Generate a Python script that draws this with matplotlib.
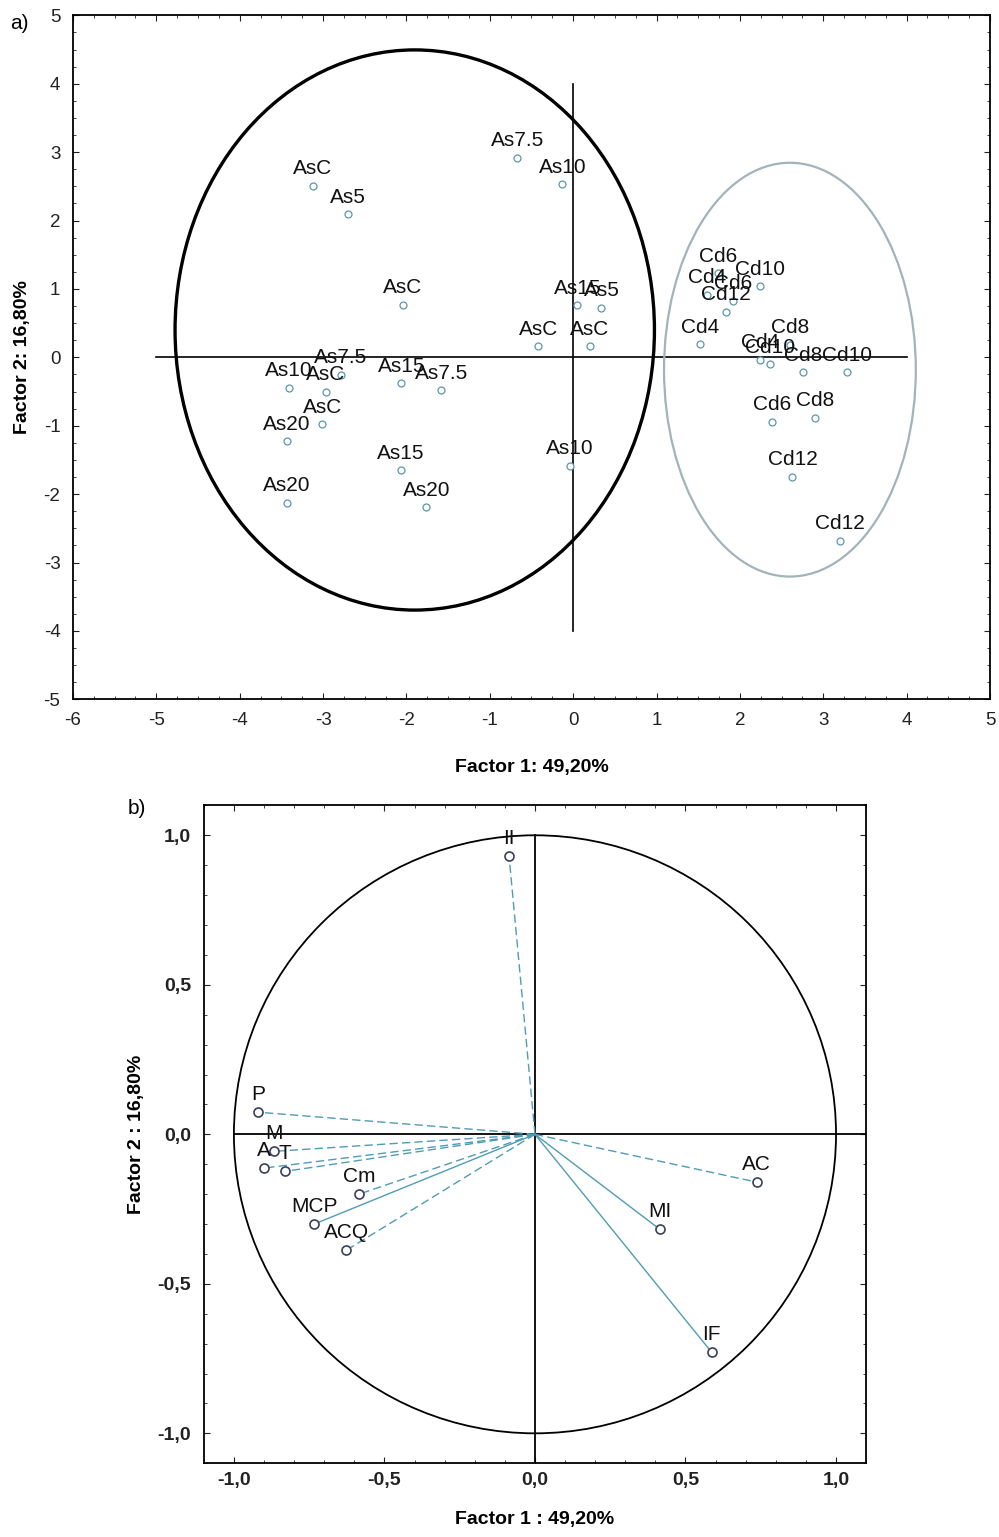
import matplotlib
matplotlib.use("Agg")
import matplotlib.pyplot as plt
from matplotlib.patches import Ellipse, Circle
from matplotlib.ticker import AutoMinorLocator, FixedLocator, FuncFormatter
import numpy as np

plt.rcParams['font.family'] = ['Liberation Sans', 'DejaVu Sans']
plt.rcParams['axes.unicode_minus'] = False

# a) scores of samples
score_labels = ['AsC', 'As5', 'As7.5', 'As10', 'AsC', 'As15', 'As5', 'AsC', 'AsC',
                'As10', 'As7.5', 'AsC', 'As15', 'As7.5', 'AsC', 'As20', 'As15', 'As10',
                'As20', 'As20',
                'Cd6', 'Cd4', 'Cd6', 'Cd12', 'Cd10', 'Cd4', 'Cd8', 'Cd4', 'Cd10',
                'Cd8', 'Cd10', 'Cd6', 'Cd8', 'Cd12', 'Cd12']
score_x = [-3.12, -2.70, -0.67, -0.13, -2.04, 0.05, 0.34, -0.42, 0.20,
           -3.41, -2.79, -2.97, -2.06, -1.58, -3.01, -3.43, -2.07, -0.04,
           -3.43, -1.76,
           1.74, 1.61, 1.92, 1.83, 2.24, 1.52, 2.60, 2.24, 2.36,
           2.76, 3.29, 2.39, 2.90, 2.63, 3.20]
score_y = [2.51, 2.09, 2.92, 2.53, 0.77, 0.76, 0.72, 0.16, 0.16,
           -0.45, -0.26, -0.50, -0.38, -0.48, -0.98, -1.23, -1.65, -1.59,
           -2.13, -2.19,
           1.23, 0.91, 0.83, 0.67, 1.04, 0.19, 0.18, -0.04, -0.10,
           -0.22, -0.22, -0.94, -0.88, -1.75, -2.68]

# b) variable loadings
var_labels = ['II', 'P', 'M', 'A', 'T', 'Cm', 'MCP', 'ACQ', 'AC', 'MI', 'IF']
var_x = [-0.086, -0.92, -0.866, -0.90, -0.83, -0.584, -0.733, -0.627, 0.737, 0.415, 0.587]
var_y = [0.93, 0.074, -0.057, -0.113, -0.124, -0.20, -0.30, -0.388, -0.16, -0.318, -0.729]
var_dashed = [True, True, True, True, True, True, False, True, True, False, False]

fig = plt.figure(figsize=(9.99, 15.37), dpi=100)

line_c = '#4f9cb5'

# ---- panel a
ax = fig.add_axes([0.073, 0.545, 0.918, 0.445])
ax.set_xlim(-6, 5)
ax.set_ylim(-5, 5)
ax.plot([-5, 4], [0, 0], color='black', lw=1.2, zorder=2)
ax.plot([0, 0], [-4, 4], color='black', lw=1.2, zorder=2)
ax.add_patch(Ellipse((-1.90, 0.40), 5.75, 8.19, fill=False, ec='black', lw=2.4, zorder=2))
ax.add_patch(Ellipse((2.60, -0.18), 3.02, 6.05, fill=False, ec='#a3b3ba', lw=1.6, zorder=2))
ax.plot(score_x, score_y, 'o', ms=5, mfc='white', mec='#5b97aa', mew=0.9, ls='none', zorder=3)
for lab, x, y in zip(score_labels, score_x, score_y):
    ax.annotate(lab, (x, y), xytext=(0, 5.5), textcoords='offset points',
                ha='center', va='bottom', fontsize=15, color='#111111', zorder=4)
ax.xaxis.set_major_locator(FixedLocator(range(-6, 6)))
ax.yaxis.set_major_locator(FixedLocator(range(-5, 6)))
ax.xaxis.set_minor_locator(AutoMinorLocator(4))
ax.yaxis.set_minor_locator(AutoMinorLocator(4))
ax.tick_params(which='both', direction='in', top=True, right=True, labelsize=13.5,
               colors='#222222', pad=9)
ax.tick_params(which='major', length=4)
ax.tick_params(which='minor', length=2.5)
for s in ax.spines.values():
    s.set_linewidth(1.3)
ax.set_xlabel('Factor 1: 49,20%', fontsize=14, fontweight='bold', labelpad=22)
ax.set_ylabel('Factor 2: 16,80%', fontsize=14, fontweight='bold', labelpad=9)
fig.text(0.010, 0.985, 'a)', fontsize=15, va='center')

# ---- panel b
bx = fig.add_axes([0.204, 0.048, 0.663, 0.428])
bx.set_xlim(-1.1, 1.1)
bx.set_ylim(-1.1, 1.1)
bx.plot([-1, 1.1], [0, 0], color='black', lw=1.3, zorder=2)
bx.plot([0, 0], [-1.1, 1], color='black', lw=1.3, zorder=2)
bx.add_patch(Circle((0, 0), 1.0, fill=False, ec='black', lw=1.3, zorder=2))
for x, y, d in zip(var_x, var_y, var_dashed):
    bx.plot([0, x], [0, y], color=line_c, lw=1.0, ls=(0, (6, 3)) if d else '-', zorder=3)
bx.plot(var_x, var_y, 'o', ms=6.5, mfc='white', mec='#3a3f5a', mew=1.2, ls='none', zorder=4)
for lab, x, y in zip(var_labels, var_x, var_y):
    bx.annotate(lab, (x, y), xytext=(0, 6), textcoords='offset points',
                ha='center', va='bottom', fontsize=15, color='#111111', zorder=5)
ticks_b = [-1.0, -0.5, 0.0, 0.5, 1.0]
bx.xaxis.set_major_locator(FixedLocator(ticks_b))
bx.yaxis.set_major_locator(FixedLocator(ticks_b))
bx.xaxis.set_minor_locator(AutoMinorLocator(5))
bx.yaxis.set_minor_locator(AutoMinorLocator(5))
comma = FuncFormatter(lambda v, p: ('%.1f' % v).replace('.', ','))
bx.xaxis.set_major_formatter(comma)
bx.yaxis.set_major_formatter(comma)
bx.tick_params(which='both', direction='in', top=True, right=True, labelsize=14,
               colors='#222222', pad=9)
bx.tick_params(axis='x', which='both', pad=6)
bx.tick_params(which='major', length=4)
bx.tick_params(which='minor', length=2.5)
for t in bx.get_xticklabels() + bx.get_yticklabels():
    t.set_fontweight('bold')
for s in bx.spines.values():
    s.set_linewidth(1.3)
bx.set_xlabel('Factor 1 : 49,20%', fontsize=14, fontweight='bold', labelpad=16)
bx.set_ylabel('Factor 2 : 16,80%', fontsize=14, fontweight='bold', labelpad=9)
fig.text(0.128, 0.474, 'b)', fontsize=15, va='center')

fig.savefig('out.png', dpi=100)
